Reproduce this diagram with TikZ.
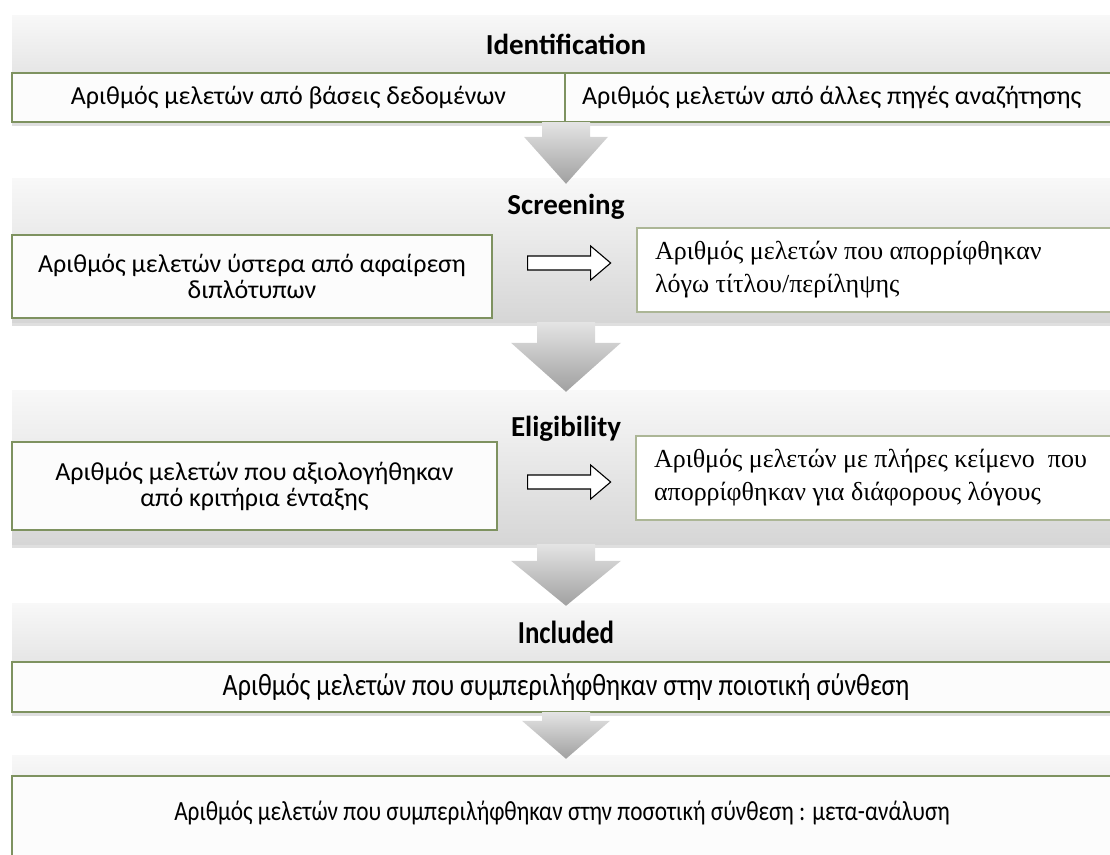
\documentclass[tikz,border=0pt]{standalone}
\usepackage{fontspec}
\setmainfont{Carlito}
\newfontfamily\serifgr{Liberation Serif}
\newfontfamily\narrowgr[FakeStretch=0.84]{Carlito}
\usetikzlibrary{calc,shadows}
\definecolor{boxline}{RGB}{126,146,96}
\definecolor{paleline}{RGB}{172,182,150}
\definecolor{bandtop}{RGB}{248,248,248}
\definecolor{bandbot}{RGB}{214,214,214}
\definecolor{arrowtop}{RGB}{228,228,228}
\definecolor{arrowbot}{RGB}{160,160,160}
\begin{document}
\begin{tikzpicture}[x=1pt,y=-1pt,
    band/.style={top color=bandtop, bottom color=bandbot, draw=none, inner sep=0pt,
      minimum width=1108pt, drop shadow={shadow xshift=0pt, shadow yshift=-4pt, opacity=0.25}},
    box/.style={draw=boxline, line width=1.3pt, fill=gray!2, inner sep=0pt, align=center,
      font=\fontsize{26}{26}\selectfont},
    rbox/.style={box, draw=paleline, fill=white, align=flush left, inner xsep=18pt,
      font=\serifgr\fontsize{26}{33}\selectfont},
    head/.style={font=\bfseries\fontsize{29}{30}\selectfont},
    bigarrow/.style={top color=arrowtop, bottom color=arrowbot, draw=none},
    hollow/.style={draw=black, fill=white, line width=1.1pt, line join=miter}
  ]
    \useasboundingbox (0,0) rectangle (1110,854);
    \clip (0,0) rectangle (1110,854);
    \node[band, minimum height=107pt] (b1) at (566,68.5) {};
    \node[band, minimum height=144pt] (b2) at (566,250) {};
    \node[band, minimum height=154pt] (b3) at (566,467) {};
    \node[band, minimum height=109pt] (b4) at (566,657.5) {};
    \node[band, minimum height=115pt] (b5) at (566,812.5) {};
    \node[head] (idT) at (566,44) {Identification};
    \node[head] (scrT) at (566,207) {Screening};
    \node[head] (eliT) at (566,429) {Eligibility};
    \node[head, font=\narrowgr\bfseries\fontsize{32}{32}\selectfont] (incT) at (566,632) {Included};
    \node[box, minimum width=553pt, minimum height=49pt] (idL) at (288.5,97.5) {Αριθμός μελετών από βάσεις δεδομένων};
    \node[box, minimum width=555pt, minimum height=49pt, align=flush left, inner xsep=17pt, text width=521pt] (idR) at (842.5,97.5) {Αριθμός μελετών από άλλες πηγές αναζήτησης};
    \node[box, minimum width=480pt, minimum height=83pt] (scrL) at (252,276.5) {Αριθμός μελετών ύστερα από αφαίρεση\\διπλότυπων};
    \node[rbox, minimum height=84pt, text width=447pt] (scrR) at (878.5,270) {Αριθμός μελετών που απορρίφθηκαν\\λόγω τίτλου/περίληψης};
    \node[box, minimum width=485pt, minimum height=88pt] (eliL) at (254.5,486) {Αριθμός μελετών που αξιολογήθηκαν\\από κριτήρια ένταξης};
    \node[rbox, minimum height=84pt, text width=448pt] (eliR) at (878,478) {Αριθμός μελετών με πλήρες κείμενο\ \ που\\απορρίφθηκαν για διάφορους λόγους};
    \node[box, minimum width=1108pt, minimum height=50pt, font=\narrowgr\fontsize{31}{31}\selectfont] (incB) at (566,687) {Αριθμός μελετών που συμπεριλήφθηκαν στην ποιοτική σύνθεση};
    \node[box, minimum width=1108pt, minimum height=94pt] (metaB) at (566,823) {};
    \node[font=\narrowgr\fontsize{27.7}{30}\selectfont] (metaT) at (562,813) {Αριθμός μελετών που συμπεριλήφθηκαν στην ποσοτική σύνθεση : μετα-ανάλυση};
    \coordinate (t1) at ($(b2.north)+(0,6)$);
    \coordinate (t2) at ($(b3.north)+(0,2)$);
    \coordinate (t3) at ($(b4.north)+(0,3)$);
    \coordinate (t4) at ($(b5.north)+(0,4)$);
    \shade[bigarrow] ($(b1.south)+(-24,0)$) -- ($(t1)+(-24,-47)$) -- ($(t1)+(-42,-47)$) -- (t1) -- ($(t1)+(42,-47)$) -- ($(t1)+(24,-47)$) -- ($(b1.south)+(24,0)$) -- cycle;
    \shade[bigarrow] ($(b2.south)+(-29,0)$) -- ($(t2)+(-29,-49)$) -- ($(t2)+(-55,-49)$) -- (t2) -- ($(t2)+(55,-49)$) -- ($(t2)+(29,-49)$) -- ($(b2.south)+(29,0)$) -- cycle;
    \shade[bigarrow] ($(b3.south)+(-29,0)$) -- ($(t3)+(-29,-45)$) -- ($(t3)+(-55,-45)$) -- (t3) -- ($(t3)+(55,-45)$) -- ($(t3)+(29,-45)$) -- ($(b3.south)+(29,0)$) -- cycle;
    \shade[bigarrow] ($(b4.south)+(-24,0)$) -- ($(t4)+(-24,-38)$) -- ($(t4)+(-44,-38)$) -- (t4) -- ($(t4)+(44,-38)$) -- ($(t4)+(24,-38)$) -- ($(b4.south)+(24,0)$) -- cycle;
    \draw[hollow] ($(scrL.east)+(35,-20.5)$) -- ++(63,0) -- ++(0,-10) -- ++(20,17) -- ++(-20,17) -- ++(0,-10) -- ++(-63,0) -- cycle;
    \draw[hollow] ($(eliL.east)+(30,-11)$) -- ++(63,0) -- ++(0,-10) -- ++(20,17) -- ++(-20,17) -- ++(0,-10) -- ++(-63,0) -- cycle;
  \end{tikzpicture}
\end{document}
